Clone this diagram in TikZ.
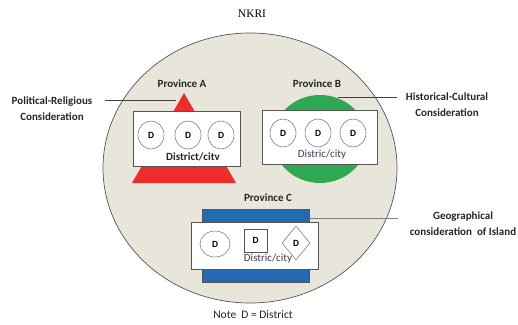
\documentclass[tikz,border=0pt]{standalone}
\usepackage{fontspec}
\setmainfont{Carlito}
\newfontfamily\nkserif{Liberation Serif}
\usetikzlibrary{shapes.geometric}
\definecolor{bgfill}{HTML}{E8E5DB}
\definecolor{edgegray}{HTML}{555555}
\definecolor{redA}{HTML}{EE2D2A}
\definecolor{greenB}{HTML}{2EA851}
\definecolor{blueC}{HTML}{236AB0}
\definecolor{distxt}{HTML}{4A3550}
\tikzset{
  lbl/.style={font=\fontsize{11}{14}\selectfont\bfseries, text=black!85, inner sep=0pt},
  provlbl/.style={font=\fontsize{11}{14}\selectfont\bfseries, text=black!85, inner sep=0pt},
  distbox/.style={draw=edgegray, fill=white, line width=0.7pt, rectangle, inner sep=0pt},
  dcirc/.style={ellipse, draw=gray, fill=white, line width=0.6pt, minimum width=26pt, minimum height=28pt, inner sep=0pt, font=\fontsize{9.5}{11}\selectfont\bfseries},
  conn/.style={draw=black!75, line width=0.6pt},
}
\begin{document}
\begin{tikzpicture}[x=1pt,y=-1pt]
\useasboundingbox (0,0) rectangle (518,324);
% title
\node[font=\nkserif\fontsize{11.5}{13}\selectfont] (nkri) at (252,14) {NKRI};
% big ellipse
\node[ellipse, draw=edgegray, fill=bgfill, line width=0.7pt, minimum width=294pt, minimum height=270pt, inner sep=0pt] (nation) at (250,168) {};

% Province A
\node[provlbl] (provA) at (182,84) {Province A};
\fill[redA] (184,93) coordinate (apexA) -- (236,183) -- (132,183) -- cycle;
\node[distbox, minimum width=107pt, minimum height=55pt] (boxA) at (186.5,138.5) {};
\node[dcirc] (a1) at (151,135) {D};
\node[dcirc] (a2) at (188,135) {D};
\node[dcirc] (a3) at (221,135) {D};
\node[lbl] (distA) at (193,157) {District/citv};

% Province B
\node[provlbl] (provB) at (317,84) {Province B};
\node[ellipse, fill=greenB, minimum width=94pt, minimum height=88pt, inner sep=0pt] (ovalB) at (320,139) {};
\node[distbox, minimum width=115pt, minimum height=54pt] (boxB) at (319.5,137) {};
\node[dcirc] (b1) at (283,133) {D};
\node[dcirc] (b2) at (318,133) {D};
\node[dcirc] (b3) at (353,133) {D};
\node[font=\fontsize{11}{13}\selectfont, text=distxt, inner sep=0pt] (distB) at (322,155) {Distric/city};

% Province C
\node[provlbl] (provC) at (268,198) {Province C};
\node[rectangle, draw=edgegray, fill=blueC, line width=0.6pt, minimum width=107pt, minimum height=73pt, inner sep=0pt] (rectC) at (255.5,245.5) {};
\node[distbox, minimum width=127pt, minimum height=47pt] (boxC) at (254.5,245.5) {};
\node[dcirc, minimum width=30pt, minimum height=26pt] (c1) at (215,244) {D};
\node[rectangle, draw=edgegray, fill=white, line width=0.6pt, minimum size=23pt, inner sep=0pt, font=\fontsize{9.5}{11}\selectfont\bfseries] (c2) at (255.5,240.5) {D};
\node[diamond, draw=gray, fill=white, line width=0.6pt, minimum width=28pt, minimum height=34pt, inner sep=0pt, font=\fontsize{9.5}{11}\selectfont\bfseries] (c3) at (296,243) {D};
\node[font=\fontsize{11}{13}\selectfont, text=distxt, inner sep=0pt] (distC) at (268,259) {Distric/city};

% side labels
\node[lbl, align=center] (polrel) at (52,109) {Political-Religious\\[2pt]Consideration};
\node[lbl, align=center] (histcul) at (447,104.5) {Historical-Cultural\\[2pt]Consideration};
\node[lbl, align=center] (geo) at (463,224) {Geographical\\[2pt]consideration\ \ of Island};

% connectors
\coordinate (pa0) at (105,100);
\coordinate (pa1) at (176,100);
\draw[conn] (pa0) -- (pa1);
\coordinate (hb0) at (338,97);
\coordinate (hb1) at (397,97);
\draw[conn] (hb0) -- (hb1);
\coordinate (gc0) at (309,218.5);
\coordinate (gc1) at (398,218.5);
\draw[conn, draw=gray] (gc0) -- (gc1);

% note
\node[font=\fontsize{11.5}{13}\selectfont, text=black!85, inner sep=0pt] (note) at (253,315) {Note\ \ D = District};
\end{tikzpicture}
\end{document}
